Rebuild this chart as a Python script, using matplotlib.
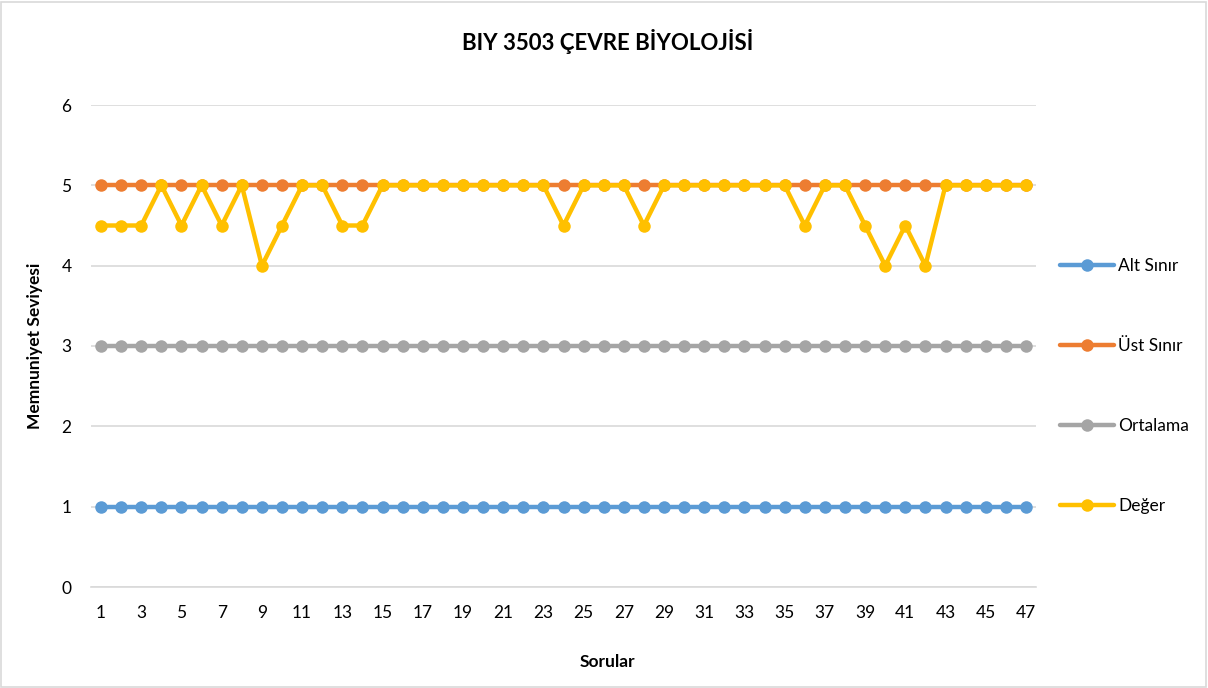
import matplotlib
matplotlib.use("Agg")
import matplotlib.pyplot as plt
from matplotlib.patches import Rectangle

plt.rcParams['font.family'] = ['Lato', 'DejaVu Sans']

sorular = list(range(1, 48))
alt_sinir = [1] * 47
ust_sinir = [5] * 47
ortalama = [3] * 47
deger = [4.5, 4.5, 4.5, 5, 4.5, 5, 4.5, 5, 4, 4.5,
         5, 5, 4.5, 4.5, 5, 5, 5, 5, 5, 5,
         5, 5, 5, 4.5, 5, 5, 5, 4.5, 5, 5,
         5, 5, 5, 5, 5, 4.5, 5, 5, 4.5, 4,
         4.5, 4, 5, 5, 5, 5, 5]
series_names = ["Alt Sınır", "Üst Sınır", "Ortalama", "Değer"]
colors = ["#5B9BD5", "#ED7D31", "#A5A5A5", "#FFC000"]
title = "BIY 3503 ÇEVRE BİYOLOJİSİ"
ylabel = "Memnuniyet Seviyesi"
xlabel = "Sorular"

W, H = 1208, 688
fig = plt.figure(figsize=(W / 100, H / 100), dpi=100)
ax = fig.add_axes([91 / W, 1 - 587 / H, (1036 - 91) / W, (587 - 105) / H])

for name, vals, c in zip(series_names, [alt_sinir, ust_sinir, ortalama, deger], colors):
    ax.plot(sorular, vals, color=c, lw=3.2, marker='o', ms=9,
            markeredgewidth=0, label=name, solid_capstyle='round', zorder=3)

ax.set_xlim(0.5, 47.5)
ax.set_ylim(0, 6)
ax.set_yticks(range(0, 7))
ax.set_xticks(sorular[::2])
ax.yaxis.grid(True, color="#D9D9D9", lw=1.2)
ax.set_axisbelow(True)
for s in ['top', 'right', 'left']:
    ax.spines[s].set_visible(False)
ax.spines['bottom'].set_color("#D9D9D9")
ax.spines['bottom'].set_linewidth(1.2)
ax.tick_params(axis='both', length=0, labelsize=12.5, colors='black')
ax.tick_params(axis='x', pad=13)
ax.tick_params(axis='y', pad=14)

fig.text(0.5 * (460 + 755) / W, 1 - 42 / H, title, ha='center', va='center',
         fontsize=16, fontweight='bold')
fig.text(35 / W, 1 - 346 / H, ylabel, rotation=90, ha='center', va='center',
         fontsize=12.5, fontweight='bold')
fig.text(607 / W, 1 - 662 / H, xlabel, ha='center', va='center',
         fontsize=12.5, fontweight='bold')

fig.legend(loc='center left', bbox_to_anchor=(1060 / W, 1 - 386 / H),
           frameon=False, fontsize=12.5, handlelength=3.1, handletextpad=0.25,
           labelspacing=3.68, borderpad=0, borderaxespad=0)

fig.patches.append(Rectangle((1 / W, 1 / H), (W - 3) / W, (H - 3) / H,
                             transform=fig.transFigure, fill=False,
                             edgecolor="#D9D9D9", lw=1.2))

fig.savefig("out.png", dpi=100)
